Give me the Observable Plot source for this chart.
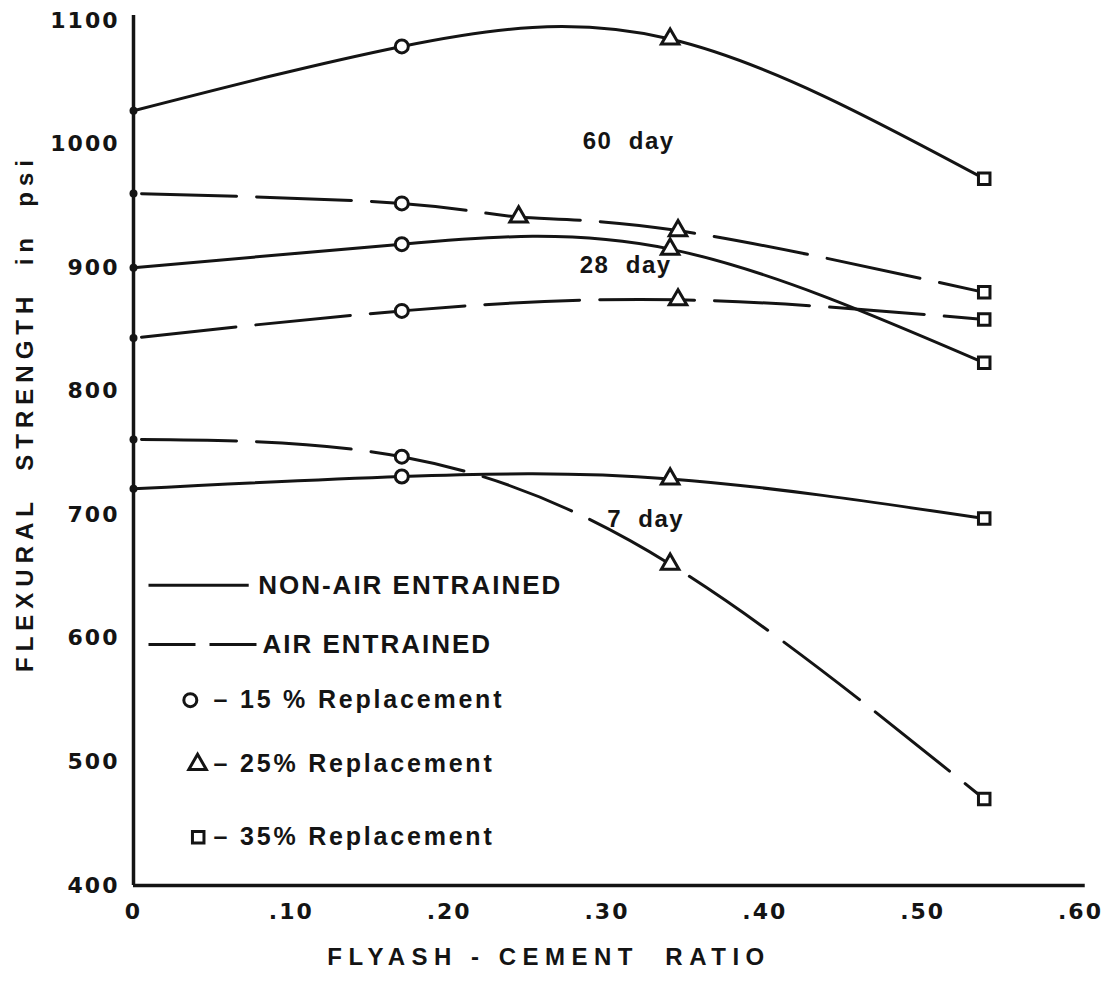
<!DOCTYPE html>
<html><head><meta charset="utf-8">
<script src="https://cdn.jsdelivr.net/npm/d3@7"></script>
<script src="https://cdn.jsdelivr.net/npm/@observablehq/plot@0.6"></script>
<style>
body{margin:0;background:#fff}
svg{display:block}
.ticks text{letter-spacing:2px}
.leg text{letter-spacing:2px}
.day text{letter-spacing:1.5px}
.leg2 text{letter-spacing:2.8px}
.xtitle text{letter-spacing:6.5px}
.ytitle text{letter-spacing:6px}
</style>
</head><body><div id="chart"></div>
<script>
// Flyash-cement ratio (x), flexural strength in psi (y), % replacement (0 = no flyash)
const x60N = [0, 0.17, 0.34, 0.539];
const y60N = [1027, 1079, 1085, 972];
const r60N = [0, 15, 25, 35];

const x60A = [0, 0.17, 0.244, 0.345, 0.539];
const y60A = [960, 952, 941, 930, 880];
const r60A = [0, 15, 25, 25, 35];

const x28N = [0, 0.17, 0.34, 0.539];
const y28N = [900, 919, 915, 823];
const r28N = [0, 15, 25, 35];

const x28A = [0, 0.17, 0.345, 0.539];
const y28A = [843, 865, 874, 858];
const r28A = [0, 15, 25, 35];

const x7N = [0, 0.17, 0.34, 0.539];
const y7N = [721, 731, 729, 697];
const r7N = [0, 15, 25, 35];

const x7A = [0, 0.17, 0.34, 0.539];
const y7A = [761, 747, 660, 470];
const r7A = [0, 15, 25, 35];

const yTicks = [400, 500, 600, 700, 800, 900, 1000, 1100];
const xTicks = [0, 0.1, 0.2, 0.3, 0.4, 0.5, 0.6];
const repLevels = [15, 25, 35];
const repLabels = ["\u2013 15 % Replacement", "\u2013 25% Replacement", "\u2013 35% Replacement"];
const entrainLabels = ["NON-AIR ENTRAINED", "AIR ENTRAINED"];
const dayText = ["60\u00a0\u00a0day", "28\u00a0\u00a0day", "7\u00a0\u00a0day"];
const dayX = [0.3137, 0.3118, 0.3245];
const dayY = [1002, 902, 696];

function build(xs, ys, rs, age, air) {
  return xs.map((x, i) => ({x, y: ys[i], rep: rs[i], series: age + (air ? "A" : "N"), air}));
}
const rows = [
  ...build(x60N, y60N, r60N, "60", false),
  ...build(x60A, y60A, r60A, "60", true),
  ...build(x28N, y28N, r28N, "28", false),
  ...build(x28A, y28A, r28A, "28", true),
  ...build(x7N, y7N, r7N, "7", false),
  ...build(x7A, y7A, r7A, "7", true)
];

// legend placement (data units)
const legLineY = [643, 595];
const legMarkY = [550, 498, 439];
const legLines = [
  {x1: 0.0095, x2: 0.073, y: legLineY[0], label: entrainLabels[0], tx: 0.079, air: false},
  {x1: 0.0095, x2: 0.078, y: legLineY[1], label: entrainLabels[1], tx: 0.0817, air: true}
];
const legMarks = repLevels.map((r, i) => ({rep: r, label: repLabels[i], y: legMarkY[i], mx: [0.036, 0.0406, 0.041][i], tx: 0.0507}));
const days = dayText.map((t, i) => ({t, x: dayX[i], y: dayY[i]}));

const INK = "#141414";
const FONT = "Liberation Sans, Arial, sans-serif";
const TFONT = "DejaVu Sans, Verdana, sans-serif";

const chart = Plot.plot({
  width: 1107,
  height: 1003,
  marginLeft: 133,
  marginRight: 27,
  marginTop: 20,
  marginBottom: 118,
  style: {background: "#fff", color: INK, fontFamily: FONT},
  x: {domain: [0, 0.6]},
  y: {domain: [400, 1100]},
  symbol: {domain: repLevels, range: ["circle", "triangle", "square"]},
  marks: [
    Plot.axisX({ticks: xTicks, tickSize: 0, tickPadding: 18, label: null,
      tickFormat: d => d === 0 ? "0" : d3.format(".2f")(d).slice(1),
      fontSize: 22, fontFamily: TFONT, fontWeight: "bold", className: "ticks"}),
    Plot.axisY({ticks: yTicks, tickSize: 0, tickPadding: 14, label: null,
      tickFormat: d => String(d),
      fontSize: 22, fontFamily: TFONT, fontWeight: "bold", className: "ticks"}),
    Plot.ruleX([0], {y1: 400, y2: 1104, stroke: INK, strokeWidth: 3.5}),
    Plot.ruleY([400], {x1: 0, x2: 0.603, stroke: INK, strokeWidth: 3.5}),
    Plot.line(rows.filter(d => !d.air), {x: "x", y: "y", z: "series", curve: "natural", stroke: INK, strokeWidth: 3}),
    Plot.line(rows.filter(d => d.air), {x: "x", y: "y", z: "series", curve: "natural", stroke: INK, strokeWidth: 3, strokeDasharray: "95,20", strokeDashoffset: -8}),
    Plot.dot(rows.filter(d => d.rep === 0), {x: "x", y: "y", r: 4, fill: INK}),
    Plot.dot(rows.filter(d => d.rep > 0), {x: "x", y: "y", symbol: "rep", r: 6.5, fill: "white", stroke: INK, strokeWidth: 3}),
    // day annotations
    Plot.text(days, {x: "x", y: "y", text: "t", fontSize: 24, fontWeight: "bold", fill: INK, className: "day"}),
    // legend
    Plot.link(legLines.filter(d => !d.air), {x1: "x1", x2: "x2", y1: "y", y2: "y", stroke: INK, strokeWidth: 3}),
    Plot.link(legLines.filter(d => d.air), {x1: "x1", x2: "x2", y1: "y", y2: "y", stroke: INK, strokeWidth: 3, strokeDasharray: "47,14"}),
    Plot.text(legLines, {x: "tx", y: "y", text: "label", textAnchor: "start", fontSize: 26, fontWeight: "bold", fill: INK, className: "leg"}),
    Plot.dot(legMarks, {x: "mx", y: "y", symbol: "rep", r: 6.5, fill: "white", stroke: INK, strokeWidth: 3}),
    Plot.text(legMarks, {x: "tx", y: "y", text: "label", textAnchor: "start", fontSize: 25, fontWeight: "bold", fill: INK, className: "leg2"}),
    // axis titles
    Plot.text(["FLEXURAL\u00a0\u00a0STRENGTH\u00a0\u00a0in\u00a0\u00a0psi"], {frameAnchor: "left", textAnchor: "middle", lineAnchor: "middle", rotate: -90, dx: -108, dy: -40, fontSize: 24, fontWeight: "bold", fill: INK, className: "ytitle"}),
    Plot.text(["FLYASH - CEMENT\u00a0\u00a0RATIO"], {frameAnchor: "bottom", textAnchor: "middle", lineAnchor: "middle", dx: -58, dy: 72, fontSize: 24, fontWeight: "bold", fill: INK, className: "xtitle"})
  ]
});
document.getElementById("chart").append(chart);
</script>
</body></html>
